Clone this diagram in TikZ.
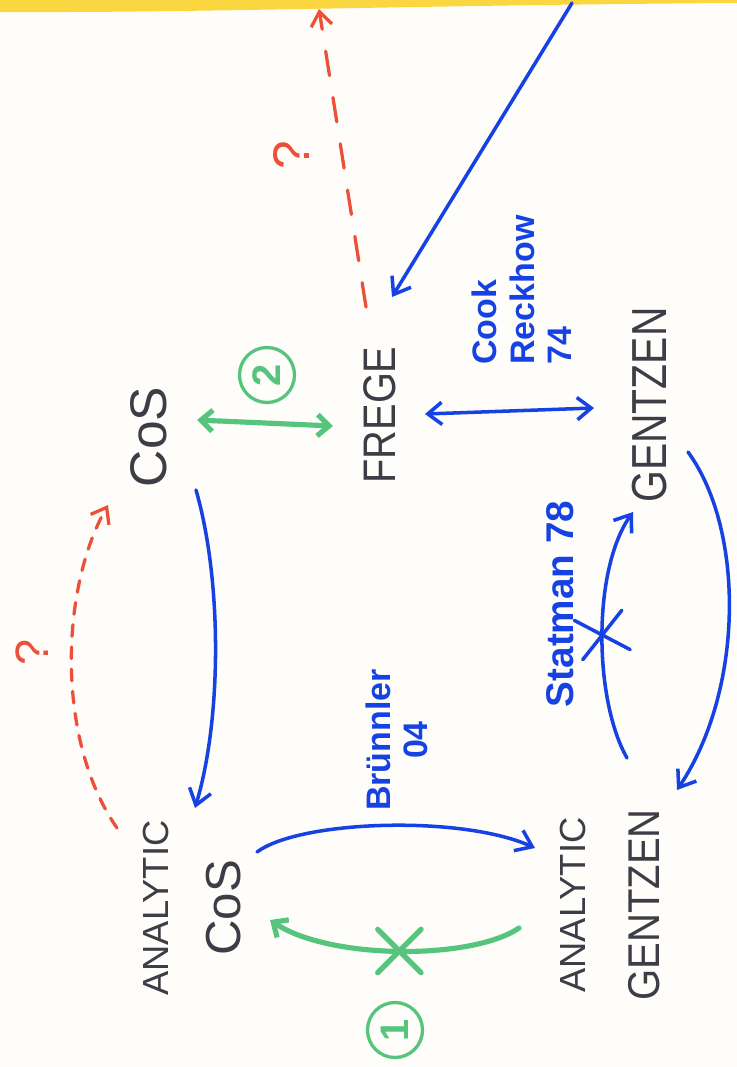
\documentclass[tikz,border=0pt]{standalone}
\usepackage{fontspec}
\usepackage{graphicx}
\setmainfont{Liberation Sans}
\usetikzlibrary{arrows.meta,calc,shapes.misc}

\definecolor{ink}{RGB}{62,60,70}
\definecolor{pen}{RGB}{22,66,228}
\definecolor{mint}{RGB}{86,196,124}
\definecolor{rust}{RGB}{236,80,58}
\definecolor{marker}{RGB}{250,214,64}
\definecolor{paper}{RGB}{254,253,249}

\begin{document}
\begin{tikzpicture}[x=0.03cm, y=-0.03cm,
  term/.style={rotate=90, text=ink, inner sep=2pt, align=center},
  note/.style={rotate=90, text=pen, inner sep=2pt, font=\bfseries\fontsize{29}{32}\selectfont},
  ask/.style={rotate=90, text=rust, inner sep=0pt},
  badge/.style={circle, draw=mint, line width=2.8pt, text=mint, minimum size=1.65cm, inner sep=0pt, rotate=90, font=\bfseries\fontsize{34}{36}\selectfont},
  bluearrow/.style={draw=pen, line width=3pt, line cap=round, line join=round, -{Straight Barb[length=13pt,width=19pt]}},
  bluesim/.style={draw=pen, line width=3pt, line cap=round, {Straight Barb[length=12pt,width=19pt]}-{Straight Barb[length=12pt,width=19pt]}},
  greenarrow/.style={draw=mint, line width=4.4pt, line cap=round, -{Straight Barb[length=10pt,width=18pt]}},
  greensim/.style={draw=mint, line width=4.4pt, {Straight Barb[length=10pt,width=18pt]}-{Straight Barb[length=10pt,width=18pt]}},
  redask/.style={draw=rust, line width=2.8pt, line cap=round, -{Straight Barb[length=12pt,width=18pt]}},
  nogo/.style={cross out, draw=#1, minimum width=1.15cm, minimum height=1.15cm, inner sep=0pt}]

% paper and the yellow marker band
\path[use as bounding box, fill=paper] (0,0) rectangle (737,1067);
\fill[marker] (0,0) -- (737,0) -- (737,3) .. controls (420,5) and (200,13) .. (0,12) -- cycle;

% proof systems
\node[term, font=\fontsize{44}{50}\selectfont] (cos) at (149,437) {CoS};
\node[term, font=\fontsize{39}{46}\selectfont] (frege) at (380,415) {\scalebox{0.87}[1]{FREGE}};
\node[term, font=\fontsize{42}{48}\selectfont] (gentzen) at (650,405) {\scalebox{0.83}[1]{GENTZEN}};
\node[term, font=\fontsize{36}{62}\selectfont] (acos) at (192,908)
  {{\fontsize{31}{62}\selectfont ANALYTIC}\\{\fontsize{42}{62}\selectfont CoS}};
\node[term, font=\fontsize{36}{63}\selectfont] (agen) at (610,905)
  {{\fontsize{31}{63}\selectfont ANALYTIC}\\{\fontsize{38}{63}\selectfont\scalebox{0.9}[1]{GENTZEN}}};

% references
\node[note, align=left] (cook) at (522,290) {Cook\\Reckhow\\74};
\node[note, align=center] (bruennler) at (397,740) {Brünnler\\04};
\node[note, font=\bfseries\fontsize{33}{36}\selectfont] (statman) at (560,604) {Statman 78};

% open questions and numbering
\node[ask, font=\fontsize{44}{46}\selectfont] (ask1) at (291,155) {?};
\node[ask, font=\fontsize{40}{42}\selectfont] (ask2) at (32,652) {?};
\node[badge] (two) at (267,375) {2};
\node[badge] (one) at (395,1030) {1};

\coordinate (feed) at (572,3);
\coordinate (beyond) at (319,9);

% simulations
\draw[greensim] ($(cos)+(48,-17)$) -- ($(frege)+(-47,11)$);
\draw[bluesim] ($(frege)+(45,-1)$) -- ($(gentzen)+(-56,3)$);
\draw[bluearrow] ($(cos)+(47,53)$) .. controls +(26,90) and +(27,-90) .. ($(acos)+(3,-100)$);
\draw[bluearrow] ($(gentzen)+(38,47)$) .. controls +(57,78) and +(67,-100) .. ($(agen)+(67,-115)$);
\draw[bluearrow] ($(acos)+(65,-56)$) .. controls +(43,-32) and +(-73,-33) .. ($(agen)+(-75,-57)$);
\draw[bluearrow] (feed) -- ($(frege)+(12,-118)$);

% separations
\draw[greenarrow] ($(agen)+(-91,23)$) .. controls +(-47,32) and +(60,40) .. ($(acos)+(78,12)$)
  node[pos=0.5, nogo=mint] {};
\draw[bluearrow] ($(agen)+(17,-147)$) .. controls +(-33,-58) and +(-41,58) .. ($(gentzen)+(-17,107)$)
  node[pos=0.5, nogo=pen, rotate=12, minimum width=1.35cm, minimum height=1.1cm] {};

% open questions
\draw[redask, dash pattern=on 21pt off 19pt] ($(frege)+(-14,-108)$) -- (beyond);
\draw[redask, dash pattern=on 10pt off 9pt] ($(acos)+(-75,-80)$) .. controls +(-61,-88) and +(-48,85) .. ($(cos)+(-41,68)$);

\end{tikzpicture}
\end{document}
